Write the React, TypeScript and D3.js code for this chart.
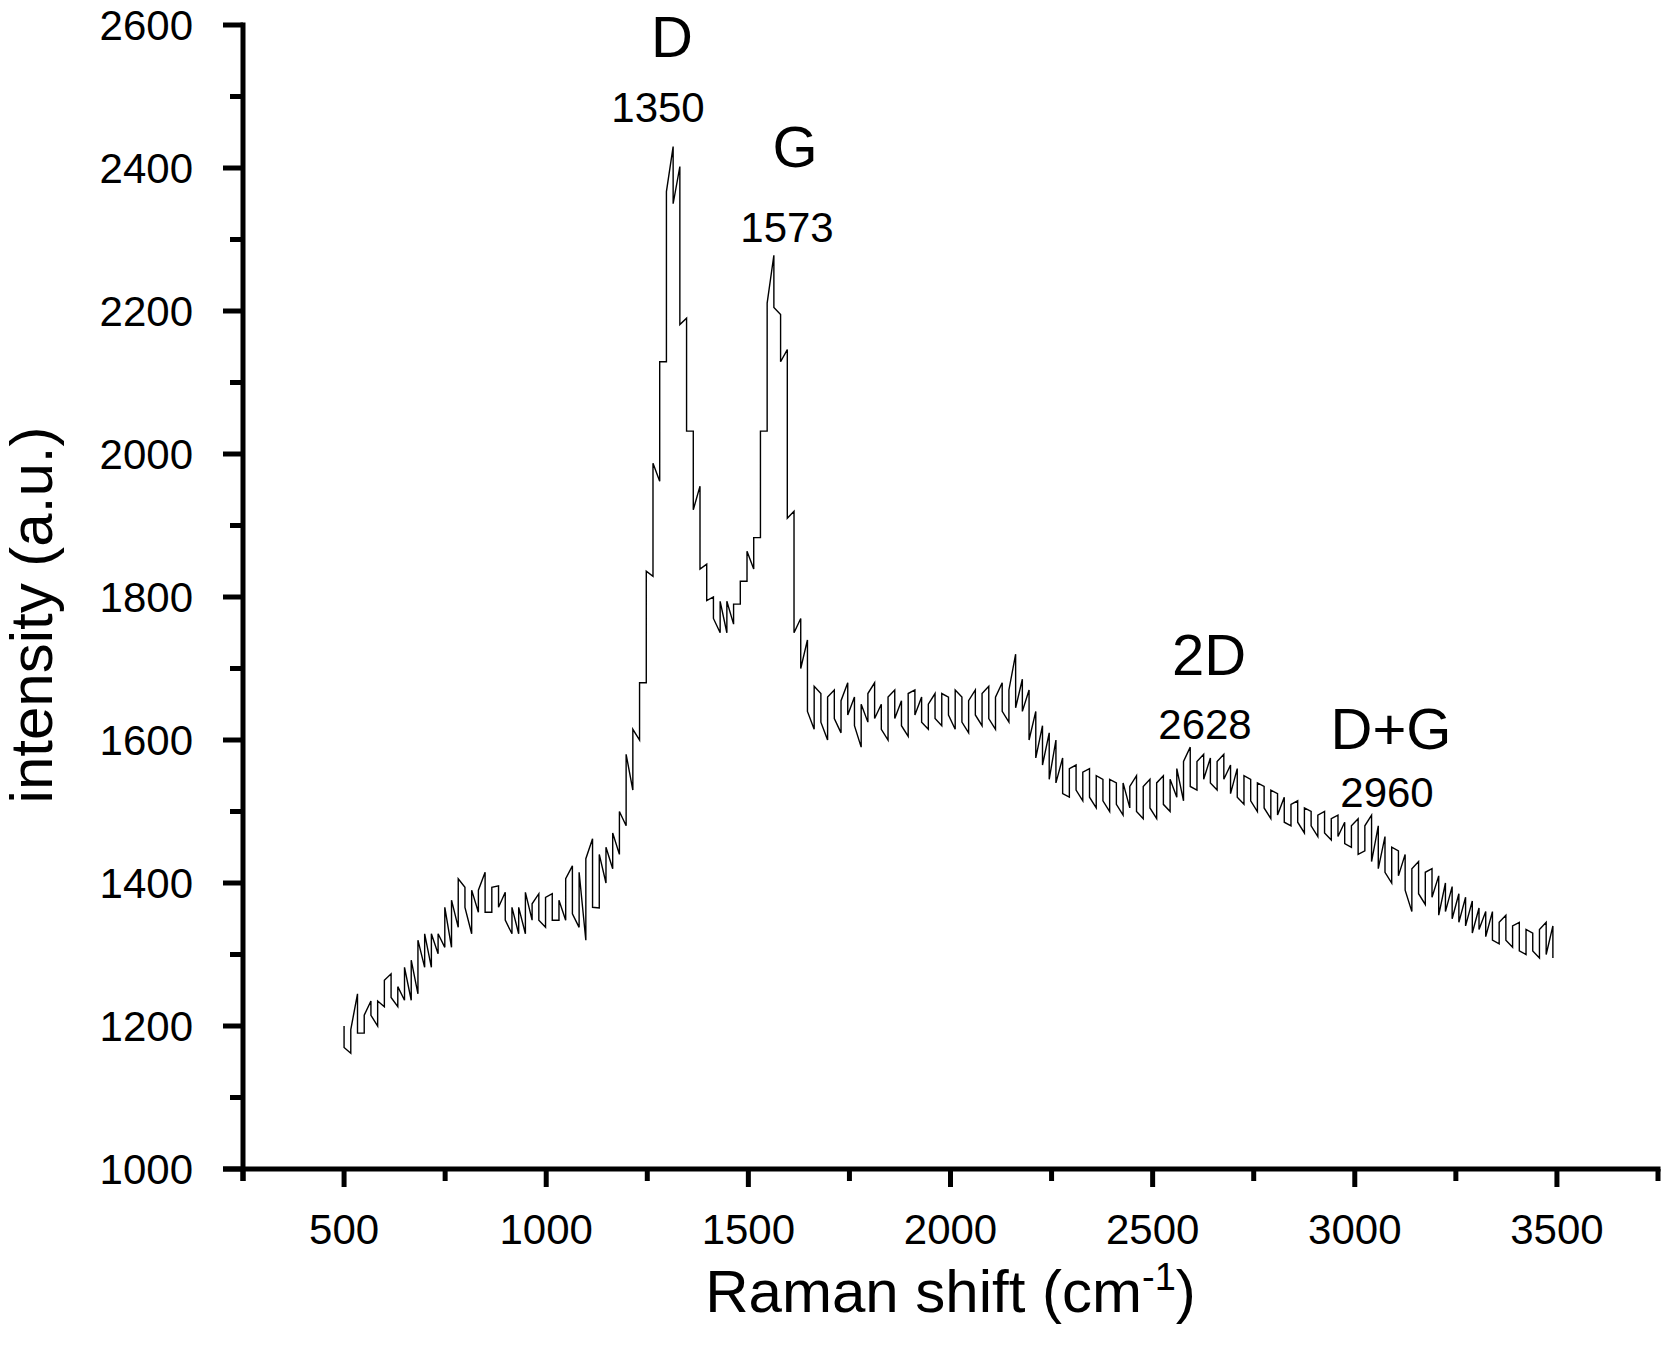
import { useRef, useEffect } from 'react';
import * as d3 from 'd3';

const WIDTH = 1662;
const HEIGHT = 1349;
const FONT = '"Liberation Sans", Arial, Helvetica, sans-serif';

// plot frame (px)
const LEFT = 243;
const RIGHT = 1658;
const TOP = 25;
const BOTTOM = 1169;

// spectrum is stored as min/max per bin on an even grid of Raman shifts
const SHIFT_FIRST = 500;
const SHIFT_LAST = 3490;

const binMin = [
  1170, 1162, 1190, 1190, 1215, 1200, 1227, 1240, 1227, 1236,
  1236, 1245, 1282, 1282, 1301, 1310, 1310, 1338, 1366, 1329,
  1359, 1359, 1359, 1366, 1348, 1329, 1329, 1329, 1348, 1348,
  1338, 1348, 1348, 1348, 1357, 1338, 1320, 1366, 1365, 1400,
  1420, 1440, 1480, 1530, 1600, 1680, 1829, 1962, 2129, 2350,
  2181, 2032, 1922, 1839, 1795, 1770, 1750, 1750, 1762, 1790,
  1822, 1839, 1883, 2032, 2205, 2129, 1910, 1750, 1700, 1640,
  1615, 1625, 1600, 1630, 1610, 1635, 1620, 1590, 1625, 1630,
  1615, 1600, 1630, 1620, 1605, 1635, 1625, 1615, 1630, 1620,
  1635, 1615, 1625, 1610, 1635, 1620, 1630, 1615, 1640, 1625,
  1645, 1640, 1600, 1575, 1565, 1545, 1540, 1525, 1520, 1530,
  1515, 1520, 1505, 1515, 1500, 1510, 1495, 1505, 1500, 1490,
  1505, 1490, 1510, 1500, 1520, 1515, 1535, 1530, 1545, 1540,
  1530, 1545, 1525, 1520, 1510, 1515, 1500, 1505, 1490, 1495,
  1485, 1480, 1485, 1470, 1480, 1465, 1470, 1460, 1465, 1455,
  1450, 1440, 1445, 1430, 1420, 1415, 1400, 1410, 1390, 1360,
  1385, 1370, 1380, 1355, 1360, 1350, 1345, 1340, 1330, 1335,
  1325, 1320, 1315, 1320, 1310, 1305, 1300, 1305, 1295, 1300,
  1295,
];

const binMax = [
  1200, 1195, 1245, 1215, 1235, 1235, 1264, 1273, 1255, 1282,
  1292, 1320, 1329, 1329, 1329, 1366, 1376, 1406, 1394, 1390,
  1390, 1415, 1394, 1396, 1387, 1366, 1366, 1387, 1371, 1385,
  1380, 1385, 1376, 1406, 1424, 1415, 1434, 1462, 1440, 1450,
  1470, 1500, 1580, 1615, 1680, 1836, 1987, 2129, 2367, 2430,
  2402, 2190, 2032, 1955, 1846, 1800, 1794, 1794, 1790, 1822,
  1864, 1883, 2032, 2211, 2278, 2195, 2146, 1920, 1770, 1740,
  1675, 1665, 1660, 1670, 1655, 1680, 1660, 1650, 1665, 1680,
  1650, 1660, 1670, 1655, 1665, 1670, 1660, 1650, 1665, 1665,
  1660, 1670, 1660, 1655, 1670, 1665, 1675, 1660, 1680, 1670,
  1720, 1685, 1670, 1640, 1620, 1610, 1600, 1575, 1560, 1565,
  1555, 1560, 1550, 1545, 1545, 1540, 1540, 1535, 1550, 1535,
  1545, 1540, 1550, 1545, 1560, 1570, 1590, 1570, 1580, 1575,
  1570, 1580, 1565, 1560, 1550, 1545, 1540, 1535, 1530, 1525,
  1520, 1510, 1515, 1505, 1500, 1495, 1500, 1490, 1495, 1485,
  1480, 1490, 1480, 1495, 1480, 1465, 1450, 1445, 1440, 1420,
  1430, 1415, 1420, 1410, 1400, 1395, 1385, 1380, 1375, 1365,
  1360, 1360, 1345, 1355, 1340, 1345, 1335, 1330, 1335, 1345,
  1340,
];

const xMajorTicks = [500, 1000, 1500, 2000, 2500, 3000, 3500];
const xMinorTicks = [250, 750, 1250, 1750, 2250, 2750, 3250, 3750];
const yMajorTicks = [1000, 1200, 1400, 1600, 1800, 2000, 2200, 2400, 2600];
const yMinorTicks = [1100, 1300, 1500, 1700, 1900, 2100, 2300, 2500];

const peakNames = ['D', 'G', '2D', 'D+G'];
const peakShifts = ['1350', '1573', '2628', '2960'];

// where the two lines of each peak label sit (px: name x, name baseline, number x, number baseline)
const PEAK_LABEL_LAYOUT = [
  [672, 57, 658, 122],
  [795, 167, 787, 242],
  [1209, 675, 1205, 739],
  [1391, 749, 1387, 807],
];

export default function App() {
  const svgRef = useRef<SVGSVGElement>(null);

  useEffect(() => {
    const svg = d3.select(svgRef.current);
    svg.selectAll('*').remove();

    const x = d3.scaleLinear().domain([250, 3750]).range([LEFT, RIGHT]);
    const y = d3.scaleLinear().domain([1000, 2600]).range([BOTTOM, TOP]);
    const n = binMin.length;
    const shiftAt = d3.scaleLinear().domain([0, n - 1]).range([SHIFT_FIRST, SHIFT_LAST]);

    svg.append('rect').attr('width', WIDTH).attr('height', HEIGHT).attr('fill', '#ffffff');

    // trace: each bin drawn as a vertical run, entered from the side facing the previous bin
    const pts: [number, number][] = [];
    for (let i = 0; i < n; i++) {
      const mid = (binMin[i] + binMax[i]) / 2;
      let rising: boolean;
      if (i < n - 1) rising = (binMin[i + 1] + binMax[i + 1]) / 2 >= mid;
      else rising = mid >= (binMin[i - 1] + binMax[i - 1]) / 2;
      const s = shiftAt(i);
      if (rising) {
        pts.push([s, binMin[i]], [s, binMax[i]]);
      } else {
        pts.push([s, binMax[i]], [s, binMin[i]]);
      }
    }
    const line = d3
      .line<[number, number]>()
      .x((d) => x(d[0]))
      .y((d) => y(d[1]));
    svg
      .append('path')
      .attr('d', line(pts))
      .attr('fill', 'none')
      .attr('stroke', '#000')
      .attr('stroke-width', 1.4)
      .attr('stroke-linejoin', 'miter');

    // axes
    const axisW = 5;
    svg
      .append('line')
      .attr('x1', LEFT)
      .attr('x2', LEFT)
      .attr('y1', TOP - axisW / 2)
      .attr('y2', BOTTOM + 12)
      .attr('stroke', '#000')
      .attr('stroke-width', axisW);
    svg
      .append('line')
      .attr('x1', LEFT - 20)
      .attr('x2', RIGHT + axisW / 2)
      .attr('y1', BOTTOM)
      .attr('y2', BOTTOM)
      .attr('stroke', '#000')
      .attr('stroke-width', axisW);

    yMajorTicks.forEach((t) => {
      svg
        .append('line')
        .attr('x1', LEFT - 20)
        .attr('x2', LEFT)
        .attr('y1', y(t))
        .attr('y2', y(t))
        .attr('stroke', '#000')
        .attr('stroke-width', axisW);
      svg
        .append('text')
        .attr('x', 193)
        .attr('y', y(t))
        .attr('dy', '0.36em')
        .attr('text-anchor', 'end')
        .attr('font-family', FONT)
        .attr('font-size', 42)
        .text(String(t));
    });
    yMinorTicks.forEach((t) => {
      svg
        .append('line')
        .attr('x1', LEFT - 13)
        .attr('x2', LEFT)
        .attr('y1', y(t))
        .attr('y2', y(t))
        .attr('stroke', '#000')
        .attr('stroke-width', axisW);
    });

    xMajorTicks.forEach((t) => {
      svg
        .append('line')
        .attr('x1', x(t))
        .attr('x2', x(t))
        .attr('y1', BOTTOM)
        .attr('y2', BOTTOM + 18)
        .attr('stroke', '#000')
        .attr('stroke-width', axisW);
      svg
        .append('text')
        .attr('x', x(t))
        .attr('y', 1244)
        .attr('text-anchor', 'middle')
        .attr('font-family', FONT)
        .attr('font-size', 42)
        .text(String(t));
    });
    xMinorTicks.forEach((t) => {
      svg
        .append('line')
        .attr('x1', x(t))
        .attr('x2', x(t))
        .attr('y1', BOTTOM)
        .attr('y2', BOTTOM + 12)
        .attr('stroke', '#000')
        .attr('stroke-width', axisW);
    });

    // axis titles
    const xt = svg
      .append('text')
      .attr('x', (LEFT + RIGHT) / 2)
      .attr('y', 1312)
      .attr('text-anchor', 'middle')
      .attr('font-family', FONT)
      .attr('font-size', 60);
    xt.append('tspan').text('Raman shift (cm');
    xt.append('tspan').attr('dy', -22).attr('font-size', 38).text('-1');
    xt.append('tspan').attr('dy', 22).text(')');

    svg
      .append('text')
      .attr('transform', 'translate(52,615) rotate(-90)')
      .attr('text-anchor', 'middle')
      .attr('font-family', FONT)
      .attr('font-size', 60)
      .text('intensity (a.u.)');

    // peak labels
    peakNames.forEach((name, i) => {
      const [nx, ny, sx, sy] = PEAK_LABEL_LAYOUT[i];
      svg
        .append('text')
        .attr('x', nx)
        .attr('y', ny)
        .attr('text-anchor', 'middle')
        .attr('font-family', FONT)
        .attr('font-size', 58)
        .text(name);
      svg
        .append('text')
        .attr('x', sx)
        .attr('y', sy)
        .attr('text-anchor', 'middle')
        .attr('font-family', FONT)
        .attr('font-size', 42)
        .text(peakShifts[i]);
    });
  }, []);

  return (
    <div style={{ position: 'absolute', left: 0, top: 0 }}>
      <svg ref={svgRef} width={WIDTH} height={HEIGHT} style={{ display: 'block' }} />
    </div>
  );
}
